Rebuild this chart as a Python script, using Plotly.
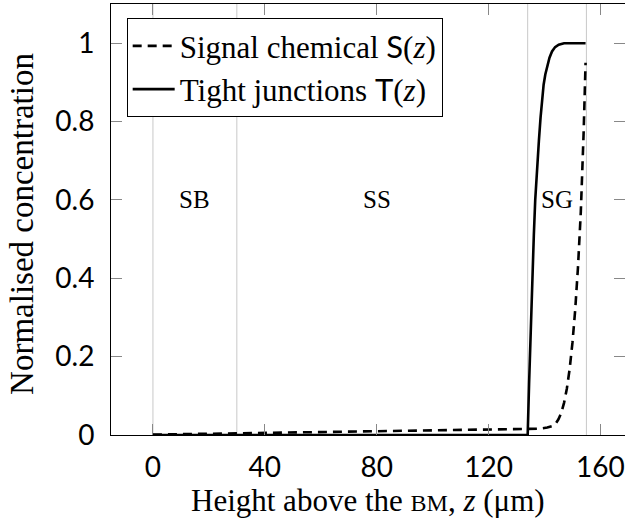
import plotly.graph_objects as go

# ---- data ----
z_S = [0, 40, 80, 120, 134, 138, 141, 143, 144, 145, 146, 147, 148, 149, 150,
       151, 152, 153, 154, 154.7]
S_vals = [0.001, 0.005, 0.009, 0.013, 0.015, 0.016, 0.019, 0.023, 0.029, 0.04,
          0.056, 0.082, 0.118, 0.168, 0.235, 0.32, 0.43, 0.57, 0.77, 0.95]

z_T = [0, 134, 134.5, 135, 135.6, 136.2, 136.7, 137.3, 138, 138.6, 139.1, 139.7,
       140.3, 140.9, 141.8, 142.7, 143.8, 145.1, 147, 154.7]
T_vals = [0, 0, 0.13, 0.255, 0.39, 0.51, 0.6, 0.68, 0.75, 0.81, 0.855, 0.894,
          0.92, 0.94, 0.963, 0.979, 0.99, 0.996, 1.0, 1.0]

zone_bounds = [0, 30, 134, 155]
zone_names = ["SB", "SS", "SG"]
zone_label_x = [15, 80, 144.5]
zone_label_y = 0.6

x_ticks = [0, 40, 80, 120, 160]
y_ticks = [0, 0.2, 0.4, 0.6, 0.8, 1]

SERIF = "Liberation Serif"
SANS = "Lato"

fig = go.Figure()
fig.add_trace(go.Scatter(
    x=z_S, y=S_vals, mode="lines",
    name=f"Signal chemical <span style='font-family:{SANS}'>S</span>(<i>z</i>)",
    line=dict(color="black", width=2.6, dash="9px,6px"),
))
fig.add_trace(go.Scatter(
    x=z_T, y=T_vals, mode="lines",
    name=f"Tight junctions <span style='font-family:{SANS}'>T</span>(<i>z</i>)",
    line=dict(color="black", width=2.6),
))

for b in zone_bounds:
    fig.add_shape(type="line", xref="x", yref="paper", x0=b, x1=b, y0=0, y1=1,
                  line=dict(color="#c8c8c8", width=1), layer="below")

for nm, zx in zip(zone_names, zone_label_x):
    fig.add_annotation(x=zx, y=zone_label_y, xref="x", yref="y", text=nm,
                       showarrow=False,
                       font=dict(family=SERIF, size=25, color="black"))

# axis titles as annotations for exact placement
fig.add_annotation(x=0.5, y=-0.151, xref="paper", yref="paper",
                   xanchor="center", yanchor="middle", showarrow=False,
                   text="Height above the <span style='font-size:24px'>BM</span>, <i>z</i> (μm)",
                   font=dict(family=SERIF, size=31, color="black"))
fig.add_annotation(x=-0.173, y=0.49, xref="paper", yref="paper",
                   xanchor="center", yanchor="middle", showarrow=False,
                   textangle=-90, text="Normalised concentration",
                   font=dict(family=SERIF, size=33, color="black"))

axis_common = dict(
    showline=True, linecolor="black", linewidth=1, mirror="ticks",
    ticks="inside", ticklen=11, tickcolor="#888", tickwidth=1,
    showgrid=False, zeroline=False,
    tickfont=dict(family=SANS, size=28, color="black"),
)

fig.update_layout(
    width=625, height=520,
    margin=dict(l=111, r=0, t=4, b=85),
    plot_bgcolor="white", paper_bgcolor="white",
    xaxis=dict(range=[-15, 168.8], tickvals=x_ticks, ticklabelstandoff=7,
               **axis_common),
    yaxis=dict(range=[0, 1.1], tickvals=y_ticks, ticklabelstandoff=10,
               **axis_common),
    legend=dict(x=0.0305, y=0.967, xanchor="left", yanchor="top",
                bordercolor="black", borderwidth=1, bgcolor="white",
                font=dict(family=SERIF, size=31, color="black"),
                tracegroupgap=0, itemwidth=42),
    showlegend=True,
)

fig.write_html("out.html", config={"displayModeBar": False},
               post_script="document.body.style.margin='0';")
